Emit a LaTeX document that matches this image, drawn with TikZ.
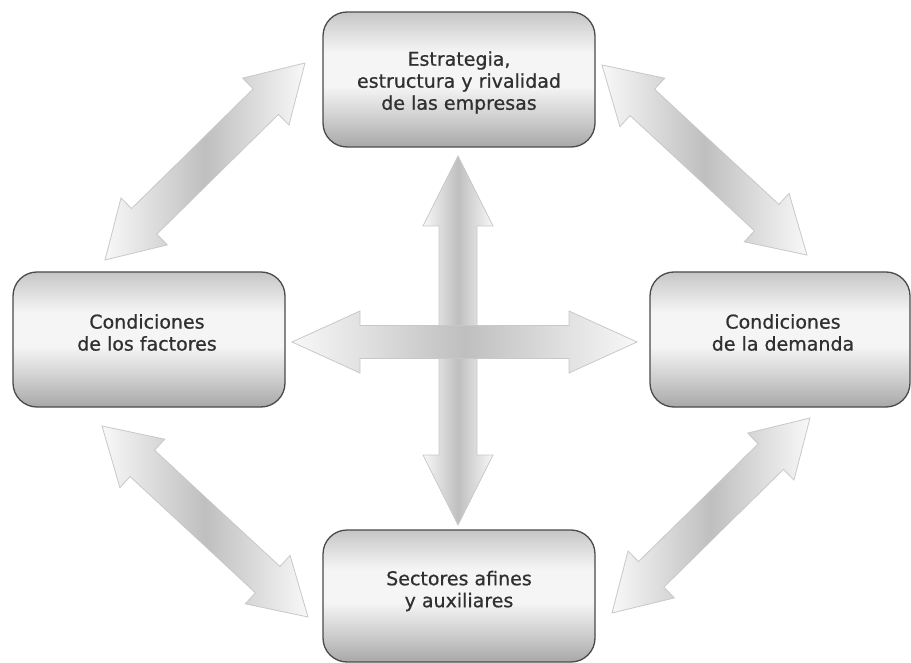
\documentclass[tikz,border=0pt]{standalone}
\usepackage{fontspec}
\setmainfont{DejaVu Sans}
\newfontfamily\capfont[FakeBold=0.7]{DejaVu Sans}
\usetikzlibrary{calc}

\definecolor{boxtop}{HTML}{C6C6C6}
\definecolor{boxhi}{HTML}{DEDEDE}
\definecolor{boxmid}{HTML}{F5F5F5}
\definecolor{boxlow}{HTML}{CCCCCC}
\definecolor{boxbot}{HTML}{A8A8A8}
\definecolor{boxline}{HTML}{4A4A4A}
\definecolor{txt}{HTML}{303030}
\definecolor{arrowend}{HTML}{F8F8F8}
\definecolor{arrowmid}{HTML}{BFBFBF}
\definecolor{arrowline}{HTML}{C8C8C8}

% vertical shading of the boxes: grey rim on top, bright band, darker base
\pgfdeclareverticalshading{boxshade}{100bp}{%
  color(0bp)=(boxbot); color(25bp)=(boxbot); color(35bp)=(boxlow);
  color(47.5bp)=(boxmid); color(60bp)=(boxmid); color(67.5bp)=(boxhi);
  color(75bp)=(boxtop); color(100bp)=(boxtop)}

\tikzset{
  factor/.style={shading=boxshade, draw=boxline, line width=1.3pt,
    rounded corners=24pt, inner sep=0pt, minimum width=272pt,
    minimum height=135pt},
  caption/.style={text=txt, align=center, font=\capfont\fontsize{19}{22}\selectfont},
  bigarrow/.style={draw=arrowline, line width=0.8pt, line join=miter,
    left color=arrowend, right color=arrowend, middle color=arrowmid},
}

% double-headed block arrow between two named points
% #1 options, #2 from, #3 to, #4 head length, #5 head half width, #6 shaft half width
\newcommand\blockarrow[6][]{%
  \path ($(#2)!#4!(#3)$) coordinate (ba-a) ($(#3)!#4!(#2)$) coordinate (ba-b);
  \draw[bigarrow,#1] (#2)
    -- ($(ba-a)!#5!90:(#3)$) -- ($(ba-a)!#6!90:(#3)$)
    -- ($(ba-b)!#6!-90:(#2)$) -- ($(ba-b)!#5!-90:(#2)$)
    -- (#3)
    -- ($(ba-b)!#5!90:(#2)$) -- ($(ba-b)!#6!90:(#2)$)
    -- ($(ba-a)!#6!-90:(#3)$) -- ($(ba-a)!#5!-90:(#3)$)
    -- cycle;}

\begin{document}
\begin{tikzpicture}[x=1pt, y=-1pt]
\useasboundingbox (0,0) rectangle (911,663);

% arrow end points
\coordinate (tl1) at (105,260);  \coordinate (tl2) at (305,63);
\coordinate (tr1) at (602,65);   \coordinate (tr2) at (807,255);
\coordinate (bl1) at (102,426);  \coordinate (bl2) at (308,617);
\coordinate (br1) at (612,613);  \coordinate (br2) at (810,418);
\coordinate (vt) at (458,156);   \coordinate (vb) at (458,525);
\coordinate (hl) at (292,342);   \coordinate (hr) at (637,342);

% diagonal links between neighbouring factors
\blockarrow{tl1}{tl2}{55pt}{33pt}{18pt}
\blockarrow{tr1}{tr2}{55pt}{33pt}{18pt}
\blockarrow{bl1}{bl2}{55pt}{33pt}{18pt}
\blockarrow{br1}{br2}{55pt}{33pt}{18pt}

% central cross
\blockarrow{vt}{vb}{70pt}{35pt}{19pt}
\blockarrow{hl}{hr}{68pt}{31pt}{16.5pt}

% the four factors
\node[factor] (top) at (459,79.5) {};
\node[factor] (left) at (149,339.5) {};
\node[factor, minimum width=260pt] (right) at (780,339.5) {};
\node[factor, minimum height=132pt] (bottom) at (459,596) {};

\node[caption] (topT) at ($(top.center)+(0,3)$)
  {Estrategia,\\estructura y rivalidad\\de las empresas};
\node[caption] (leftT) at ($(left.center)+(-2,-7)$)
  {Condiciones\\de los factores};
\node[caption] (rightT) at ($(right.center)+(3,-7)$)
  {Condiciones\\de la demanda};
\node[caption] (bottomT) at ($(bottom.center)+(0,-5)$)
  {Sectores afines\\y auxiliares};
\end{tikzpicture}
\end{document}
